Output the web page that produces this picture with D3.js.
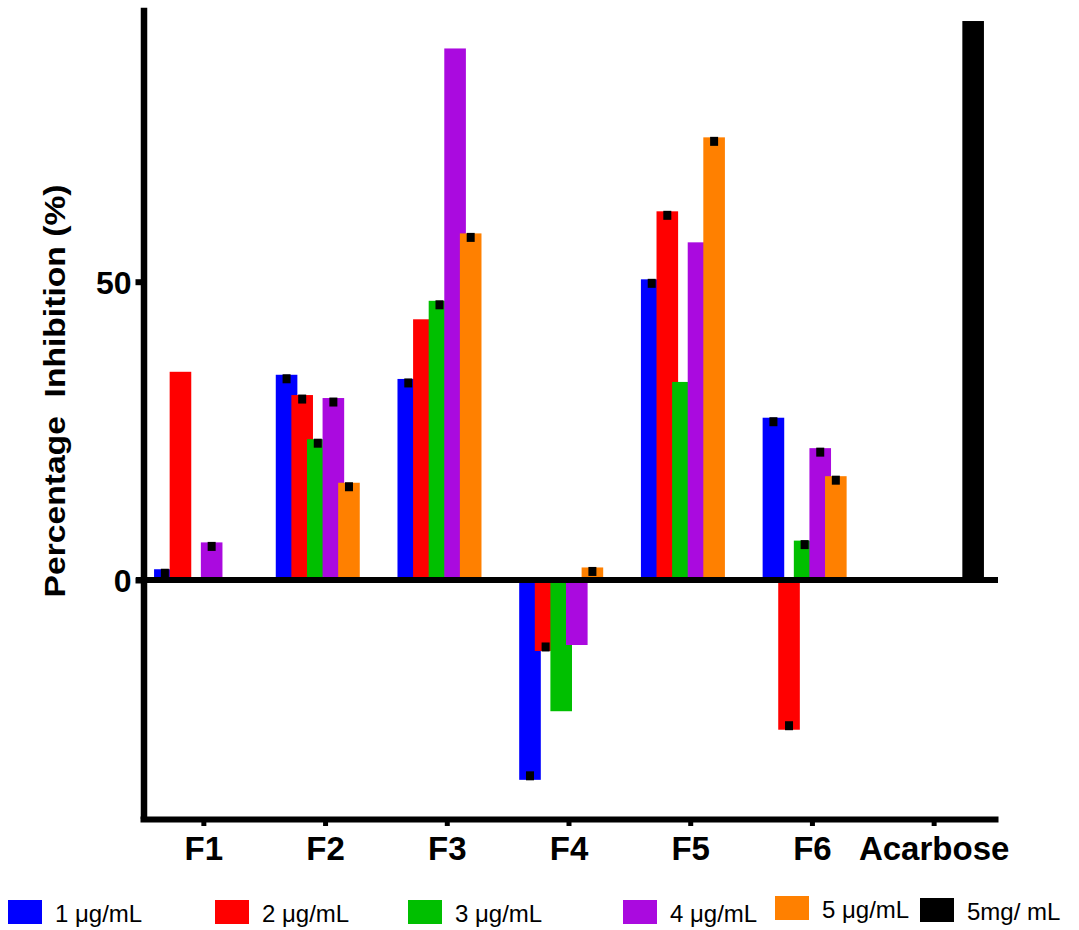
<!DOCTYPE html>
<meta charset="utf-8">
<style>
body { margin: 0; background: #fff; font-family: Arial, "Liberation Sans", sans-serif; }
.axis path, .axis line { stroke: #000; fill: none; }
.axis text { font-family: Arial, "Liberation Sans", sans-serif; font-weight: bold; fill: #000; }
</style>
<script src="https://d3js.org/d3.v7.min.js"></script>
<body>
<div id="chart"></div>
<script>
// groups on the x axis
var groups = ["F1", "F2", "F3", "F4", "F5", "F6", "Acarbose"];

// series names (legend) and colours
var seriesNames = ["1 \u03bcg/mL", "2 \u03bcg/mL", "3 \u03bcg/mL", "4 \u03bcg/mL", "5 \u03bcg/mL", "5mg/ mL"];
var colors = ["#0000ff", "#ff0000", "#00bf00", "#aa0adf", "#ff8000", "#000000"];

// percentage inhibition, one array per concentration (F1..F6, Acarbose)
var s1 = [1.8, 34.4, 33.7, -33.5, 50.4, 27.2, 0];
var s2 = [34.9, 31.0, 43.7, -11.9, 61.8, -25.1, 0];
var s3 = [0, 23.6, 46.8, -22.0, 33.2, 6.6, 0];
var s4 = [6.3, 30.5, 89.1, -10.9, 56.6, 22.1, 0];
var s5 = [0, 16.3, 58.1, 2.1, 74.2, 17.4, 0];
var s6 = [0, 0, 0, 0, 0, 0, 93.7];
var series = [s1, s2, s3, s4, s5, s6];

// which bars carry an error marker
var e1 = [1, 1, 1, 1, 1, 1, 0];
var e2 = [0, 1, 0, 1, 1, 1, 0];
var e3 = [0, 1, 1, 0, 0, 1, 0];
var e4 = [1, 1, 0, 0, 0, 1, 0];
var e5 = [0, 1, 1, 1, 1, 1, 0];
var e6 = [0, 0, 0, 0, 0, 0, 0];
var errs = [e1, e2, e3, e4, e5, e6];

var yTicks = [0, 50];

var W = 1079, H = 930;
var svg = d3.select("#chart").append("svg")
  .attr("width", W).attr("height", H);

var x = d3.scaleBand().domain(groups).range([143, 995]).padding(0);
var y = d3.scaleLinear().domain([-40, 96]).range([818.6, 7.3]);

var step = 15.6, barW = 21.6;

// bars
series.forEach(function(vals, i) {
  var g = svg.append("g");
  g.selectAll("rect")
    .data(vals)
    .enter().append("rect")
      .attr("x", function(d, j) { return x(groups[j]) + x.bandwidth() / 2 + (i - 2.5) * step - barW / 2; })
      .attr("y", function(d) { return y(Math.max(0, d)); })
      .attr("width", barW)
      .attr("height", function(d) { return Math.abs(y(d) - y(0)); })
      .attr("fill", colors[i]);
  // error markers
  g.selectAll("rect.err")
    .data(vals.map(function(d, j) { return {v: d, j: j, e: errs[i][j]}; }).filter(function(d) { return d.e; }))
    .enter().append("rect")
      .attr("class", "err")
      .attr("x", function(d) { return x(groups[d.j]) + x.bandwidth() / 2 + (i - 2.5) * step - 4; })
      .attr("y", function(d) { return d.v >= 0 ? y(d.v) - 0.5 : y(d.v) - 8.5; })
      .attr("width", 8)
      .attr("height", 9)
      .attr("fill", "#000");
});

// zero line
svg.append("line")
  .attr("x1", 136).attr("x2", 998)
  .attr("y1", y(0)).attr("y2", y(0))
  .attr("stroke", "#000").attr("stroke-width", 6);

// y axis
var yAxis = svg.append("g").attr("class", "axis")
  .attr("transform", "translate(143.5,0)")
  .call(d3.axisLeft(y).tickValues(yTicks).tickSize(8).tickSizeOuter(0).tickPadding(4));
yAxis.select(".domain").attr("stroke-width", 6.5);
yAxis.selectAll(".tick line").attr("stroke-width", 6);
yAxis.selectAll(".tick text").style("font-size", "32px").attr("dy", "0.36em");

// x axis
var xAxis = svg.append("g").attr("class", "axis")
  .attr("transform", "translate(0," + 819 + ")")
  .call(d3.axisBottom(x).tickSize(7).tickSizeOuter(0).tickPadding(11));
xAxis.select(".domain").attr("stroke-width", 6).attr("stroke-linecap", "square");
xAxis.selectAll(".tick line").attr("stroke-width", 5);
xAxis.selectAll(".tick text").style("font-size", "33px").attr("dy", "0.71em");

// y axis title
svg.append("text")
  .attr("transform", "translate(65,391) rotate(-90)")
  .attr("text-anchor", "middle")
  .style("font-size", "29px")
  .style("font-weight", "bold")
  .style("white-space", "pre")
  .attr("textLength", 413)
  .attr("lengthAdjust", "spacingAndGlyphs")
  .text("Percentage  Inhibition (%)");

// legend
var legX = [8, 215, 408, 623, 775, 920];
var legY = [900, 900, 900, 900, 896, 898];
var leg = svg.append("g");
seriesNames.forEach(function(name, i) {
  leg.append("rect")
    .attr("x", legX[i]).attr("y", legY[i])
    .attr("width", 34).attr("height", 24)
    .attr("fill", colors[i]);
  leg.append("text")
    .attr("x", legX[i] + 47).attr("y", legY[i] + 22)
    .style("font-size", "24px")
    .text(name);
});
</script>
</body>
